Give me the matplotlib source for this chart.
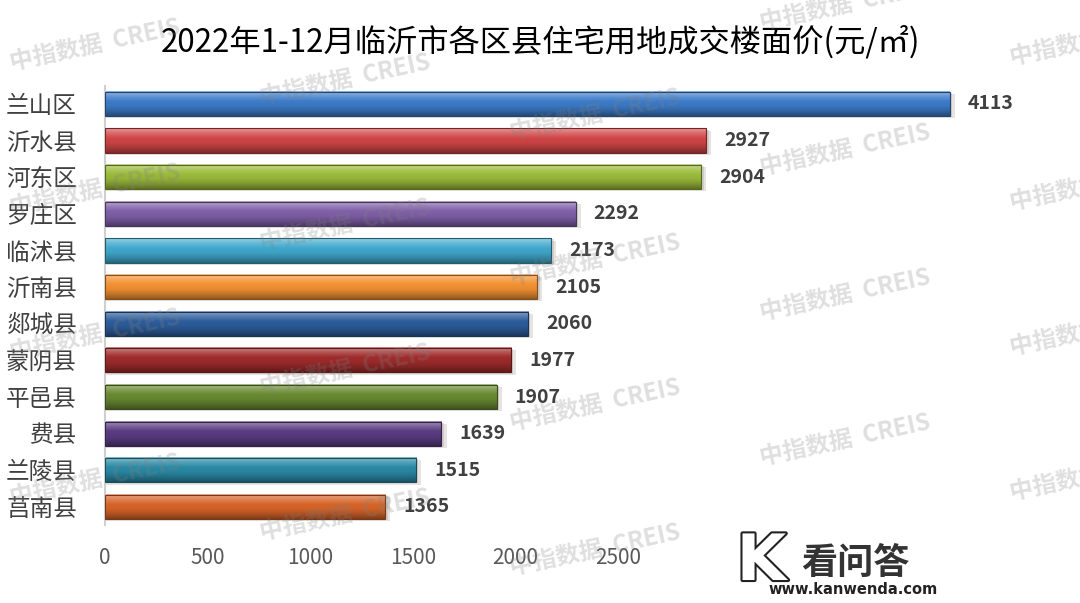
import numpy as np
import matplotlib.pyplot as plt
import matplotlib.colors as mcolors
import matplotlib.patheffects as pe
from matplotlib.patches import Rectangle

plt.rcParams['font.family'] = ['Noto Sans CJK SC', 'DejaVu Sans']

# data, top to bottom
districts = ['兰山区', '沂水县', '河东区', '罗庄区', '临沭县', '沂南县',
             '郯城县', '蒙阴县', '平邑县', '费县', '兰陵县', '莒南县']
prices = [4113, 2927, 2904, 2292, 2173, 2105, 2060, 1977, 1907, 1639, 1515, 1365]
bar_colors = ['#3d7cc9', '#d04545', '#9bbb3b', '#8060a8', '#40a8cc', '#f39233',
              '#2d5d9c', '#a02c2c', '#6a8a32', '#5a3c82', '#2a8aa6', '#d8652a']
xticks = [0, 500, 1000, 1500, 2000, 2500]
title = '2022年1-12月临沂市各区县住宅用地成交楼面价(元/㎡)'

fig = plt.figure(figsize=(10.8, 6.03), dpi=100)
ax = fig.add_axes([0.097, 0.129, 0.856, 0.729])

n = len(districts)
ypos = np.arange(n)
h = 0.66


def shade(c, f):
    # f>0 lighten toward white, f<0 darken toward black
    rgb = np.array(mcolors.to_rgb(c))
    if f > 0:
        return rgb + (1 - rgb) * f
    return rgb * (1 + f)


for y, v, c in zip(ypos, prices, bar_colors):
    # soft shadow
    ax.barh(y + 0.06, v + 25, height=h, color='#b8b0a8', alpha=0.35, zorder=1)
    ax.barh(y + 0.03, v + 12, height=h, color='#a8a098', alpha=0.35, zorder=1)
    # vertical gradient for a cylinder look
    stops = [shade(c, 0.45), shade(c, 0.2), shade(c, 0.0), shade(c, -0.05),
             shade(c, -0.2), shade(c, -0.4)]
    grad = np.linspace(0, 1, 60)
    idx = np.linspace(0, len(stops) - 1, len(stops))
    img = np.stack([np.interp(grad * (len(stops) - 1), idx, [s[k] for s in stops])
                    for k in range(3)], axis=-1)[:, None, :]
    ax.imshow(img, extent=[0, v, y + h / 2, y - h / 2], aspect='auto',
              interpolation='bilinear', zorder=2)
    ax.barh(y, v, height=h, fill=False, edgecolor=shade(c, -0.45), lw=0.8, zorder=3)
    ax.annotate(str(v), (v, y), xytext=(13, 0), textcoords='offset points',
                va='center', ha='left', fontsize=14, fontweight='bold',
                color='#404040', zorder=4)

ax.set_xlim(0, 4500)
ax.set_ylim(n - 0.5, -0.5)
ax.set_yticks(ypos)
ax.set_yticklabels(districts, fontsize=17, color='#404040')
ax.set_xticks(xticks)
ax.set_xticklabels([str(t) for t in xticks], fontsize=15, color='#595959')
ax.tick_params(axis='both', length=0)
ax.tick_params(axis='y', pad=20)
ax.tick_params(axis='x', pad=16)
for s in ['top', 'right', 'bottom']:
    ax.spines[s].set_visible(False)
ax.spines['left'].set_color('#d0d0d0')
ax.spines['left'].set_linewidth(1.5)

fig.text(0.5, 0.93, title, ha='center', va='center', fontsize=22.5, color='black')

# watermarks
for r in range(-1, 4):
    for c in range(5):
        px = 95 + 250 * c
        py = 45 + 145 * r + 35 * c
        if py < 0:
            continue
        fig.text(px / 1080, 1 - py / 603, '中指数据  CREIS', fontsize=17,
                 fontweight='bold', color='#808080', alpha=0.25, rotation=12,
                 ha='center', va='center', zorder=10)

# logo on a white patch
fig.patches.append(Rectangle((0.665, 0.0), 0.205, 0.125, transform=fig.transFigure,
                             facecolor='white', edgecolor='none', zorder=11))
fig.text(0.705, 0.068, 'K', fontsize=46, fontweight='bold', color='white',
         ha='center', va='center', family='DejaVu Sans', zorder=12,
         path_effects=[pe.withStroke(linewidth=3, foreground='#222222')])
fig.text(0.792, 0.065, '看问答', fontsize=26, fontweight='bold', color='#333333',
         ha='center', va='center', zorder=12)
fig.text(0.79, 0.022, 'www.kanwenda.com', fontsize=10.5, fontweight='bold',
         color='#222222', ha='center', va='center', family='DejaVu Sans', zorder=12)

fig.savefig('out.png', dpi=100)
